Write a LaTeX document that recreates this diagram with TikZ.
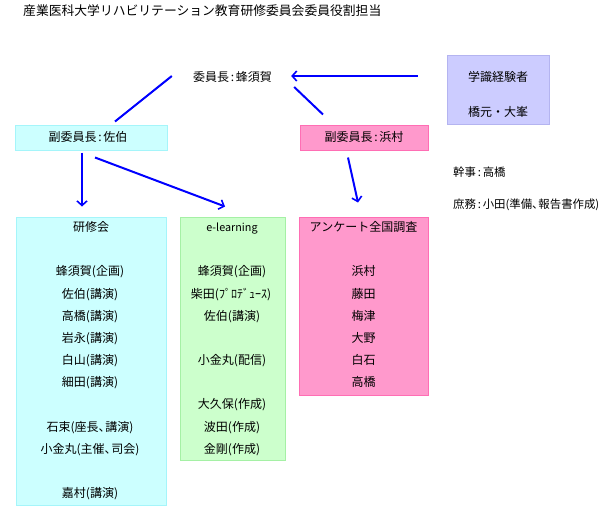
\documentclass[tikz,border=0pt]{standalone}
\usepackage{fontspec}
\setmainfont{Noto Sans CJK JP}
\usetikzlibrary{arrows.meta,calc}
\definecolor{cyanfill}{RGB}{204,255,255}
\definecolor{cyanedge}{RGB}{165,245,250}
\definecolor{greenfill}{RGB}{204,255,204}
\definecolor{greenedge}{RGB}{165,240,165}
\definecolor{pinkfill}{RGB}{255,153,204}
\definecolor{pinkedge}{RGB}{255,110,180}
\definecolor{lavfill}{RGB}{204,204,255}
\definecolor{lavedge}{RGB}{180,180,240}
\definecolor{arrblue}{RGB}{0,0,255}
\newcommand{\cln}{\kern1.8pt:\kern1.8pt}
\newcommand{\tten}{、\kern-0.45em}
\tikzset{
  lbl/.style={inner sep=0pt,font=\fontsize{12}{14}\selectfont,text height=0.88em,text depth=0.12em},
  lbls/.style={lbl,font=\fontsize{11.4}{13}\selectfont,anchor=west},
  boxc/.style={draw=cyanedge,fill=cyanfill,line width=1pt,inner sep=0pt},
  boxg/.style={draw=greenedge,fill=greenfill,line width=1pt,inner sep=0pt},
  boxp/.style={draw=pinkedge,fill=pinkfill,line width=1pt,inner sep=0pt},
  boxl/.style={draw=lavedge,fill=lavfill,line width=1pt,inner sep=0pt},
  link/.style={draw=arrblue,line width=2pt},
  arr/.style={link,-{Straight Barb[length=4.5pt,width=10pt,line width=1.6pt]}}
}
\begin{document}
\begin{tikzpicture}[x=1pt,y=-1pt]
\useasboundingbox (0,0) rectangle (600,509);
% title
\node[lbl,anchor=west,font=\fontsize{12.8}{14}\selectfont] (title) at (23,12) {産業医科大学リハビリテーション教育研修委員会委員役割担当};
% boxes
\node[boxl,minimum width=102pt,minimum height=69pt] (gak) at (498,89.5) {};
\node[boxc,minimum width=152pt,minimum height=25pt] (saeki) at (91,137.5) {};
\node[boxp,minimum width=128pt,minimum height=25pt] (hama) at (364,137.5) {};
\node[boxc,minimum width=150pt,minimum height=288pt] (ken) at (91,361) {};
\node[boxg,minimum width=105pt,minimum height=243pt] (el) at (232.5,338.5) {};
\node[boxp,minimum width=129pt,minimum height=178pt] (enq) at (363.5,306) {};
% texts
\node[lbl] (chair) at (232.5,78) {委員長\cln 蜂須賀};
\node[lbl] (gak1) at (498,78) {学識経験者};
\node[lbl] (gak2) at (498,113) {橋元・大峯};
\node[lbl] (saekit) at (88,137.5) {副委員長\cln 佐伯};
\node[lbl] (hamat) at (364,137.5) {副委員長\cln 浜村};
\node[lbls] (kanji) at (453,173) {幹事\cln 高橋};
\node[lbls] (shomu) at (453,205) {庶務\cln 小田(準備\tten 報告書作成)};
% 研修会
\node[lbl] (k0) at (91,228) {研修会};
\node[lbl] (k1) at (90,272) {蜂須賀(企画)};
\node[lbl] (k2) at (90,294.5) {佐伯(講演)};
\node[lbl] (k3) at (90,317) {高橋(講演)};
\node[lbl] (k4) at (90,339) {岩永(講演)};
\node[lbl] (k5) at (90,361) {白山(講演)};
\node[lbl] (k6) at (90,383) {細田(講演)};
\node[lbl] (k7) at (90,428) {石束(座長\tten 講演)};
\node[lbl] (k8) at (90,450) {小金丸(主催\tten 司会)};
\node[lbl] (k9) at (90,494) {嘉村(講演)};
% e-learning
\node[lbl,font=\fontsize{10.8}{12}\selectfont] (e0) at (232,228) {e-learning};
\node[lbl] (e1) at (232,272) {蜂須賀(企画)};
\node[lbl] (e2) at (231,294.5) {柴田(ﾌﾟﾛﾃﾞｭｰｽ)};
\node[lbl] (e3) at (232,317) {佐伯(講演)};
\node[lbl] (e4) at (232,361) {小金丸(配信)};
\node[lbl] (e5) at (232,405) {大久保(作成)};
\node[lbl] (e6) at (232,428) {波田(作成)};
\node[lbl] (e7) at (232,450) {金剛(作成)};
% アンケート
\node[lbl] (q0) at (363.5,228) {アンケート全国調査};
\node[lbl] (q1) at (363.5,272) {浜村};
\node[lbl] (q2) at (363.5,294.5) {藤田};
\node[lbl] (q3) at (363.5,317) {梅津};
\node[lbl] (q4) at (363.5,339) {大野};
\node[lbl] (q5) at (363.5,361) {白石};
\node[lbl] (q6) at (363.5,383) {高橋};
% connectors
\draw[arr] ($(gak.west)+(-29,-13.5)$) -- ($(chair.east)+(19,-2)$);
\draw[link] ($(chair.west)+(-21,-2)$) -- ($(saeki.north)+(24,-3)$);
\draw[link] ($(chair.east)+(22,9)$) -- ($(hama.north)+(-41,-10)$);
\draw[arr] ($(saeki.south)+(-9,2)$) -- ($(ken.north)+(-9,-10)$);
\draw[arr] ($(saeki.south)+(4,7)$) -- ($(el.north)+(-7.5,-10)$);
\draw[arr] ($(hama.south)+(-16,7)$) -- ($(enq.north)+(-5.5,-14)$);
\end{tikzpicture}
\end{document}
